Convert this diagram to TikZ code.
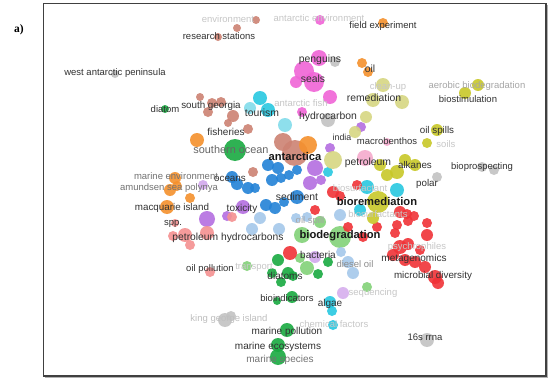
\documentclass[tikz,border=0pt]{standalone}
\usepackage{fontspec}
\setsansfont{Liberation Sans}
\newfontfamily\serifbold{Liberation Serif}
\definecolor{cbrown}{RGB}{205,130,115}
\definecolor{corange}{RGB}{245,145,45}
\definecolor{cpink}{RGB}{240,100,215}
\definecolor{cgray}{RGB}{195,195,195}
\definecolor{cgreen}{RGB}{25,170,65}
\definecolor{clgreen}{RGB}{130,210,120}
\definecolor{ccyan}{RGB}{40,200,225}
\definecolor{cblue}{RGB}{35,130,215}
\definecolor{cpurple}{RGB}{180,110,225}
\definecolor{cred}{RGB}{240,50,55}
\definecolor{csalmon}{RGB}{245,145,145}
\definecolor{colive}{RGB}{200,200,40}
\definecolor{colivel}{RGB}{215,215,130}
\definecolor{clblue}{RGB}{165,200,235}
\definecolor{clpink}{RGB}{245,170,205}
\definecolor{clcyan}{RGB}{130,220,235}
\definecolor{tdark}{RGB}{50,50,50}
\pgfdeclarelayer{bg}
\pgfsetlayers{bg,main}
\begin{document}
\begin{tikzpicture}[x=1pt,y=-1pt,
  dot/.style={circle, inner sep=0pt, outer sep=0pt, fill=#1, fill opacity=0.9, draw=none},
  lnk/.style={draw=#1, line width=1pt, draw opacity=0.32},
  lbl/.style={inner sep=0pt, font=\sffamily\fontsize{9.5}{10}\selectfont, text=tdark},
  lmd/.style={lbl, font=\sffamily\fontsize{10.4}{11}\selectfont},
  lbg/.style={lbl, font=\sffamily\bfseries\fontsize{11.2}{12}\selectfont, text=black!90},
  faint/.style={text=black!22},
  mid/.style={text=black!55}]
\useasboundingbox (0,0) rectangle (550,380);
\fill[white] (0,0) rectangle (550,380);
% frame
\draw[line width=1pt, black!30] (547.6,5) -- (547.6,377.6) -- (45,377.6);
\draw[line width=1.3pt, black!75] (43.5,3.5) rectangle (546,376);
\node[inner sep=0pt, font=\serifbold\bfseries\fontsize{11.5}{12}\selectfont] (tag) at (19,30) {a)};
% ---------- nodes ----------
\foreach \n/\x/\y/\r/\c in {
 b1/218/37/4/cbrown, b2/237/28/4/cbrown, b3/256/20/4/cbrown, b4/200/97/4/cbrown,
 b5/212/103/5/cbrown, b6/221/102/5/cbrown, b7/208/112/5/cbrown, b8/233/116/6/cbrown,
 b9/248/129/5/cbrown, b11/295/153/13/cbrown, b12/283/142/9/cbrown, b13/253/172/5/cbrown,
 b14/228/123/4/cbrown,
 o1/383/23/5/corange, o2/362/63/5/corange, o3/368/72/5/corange, o4/308/145/9/corange,
 o5/197/140/7/corange, o6/175/178/6/corange, o7/177/186/5/corange, o8/170/190/6/corange,
 o9/190/198/5/corange, o10/167/207/7/corange,
 p1/320/20/5/cpink, p2/319/58/8/cpink, p3/304/71/10/cpink, p4/314/82/10/cpink,
 p5/330/97/7/cpink, p6/302/112/5/cpink, p7/296/82/6/cpink,
 g1/115/74/4/cgray, g2/335/62/5/cgray, g3/328/120/7/cgray, g4/482/167/5/cgray,
 g5/494/170/5/cgray, g6/437/177/5/cgray, g7/427/340/7/cgray, g8/225/320/7/cgray,
 g9/231/316/5/cgray,
 G1/235/150/11/cgreen, G2/165/109/4/cgreen, G3/278/260/6/cgreen, G4/272/273/5/cgreen,
 G5/288/273/6/cgreen, G6/281/282/5/cgreen, G7/328/262/5/cgreen, G8/318/274/5/cgreen,
 G9/277/301/4/cgreen, G10/292/297/6/cgreen, G11/287/330/7/cgreen, G12/278/345/7/cgreen,
 G13/278/357/8/cgreen, G14/293/276/5/cgreen,
 L1/340/237/11/clgreen, L2/302/235/8/clgreen, L3/247/266/5/clgreen, L4/300/258/5/clgreen,
 L5/307/268/7/clgreen, L6/367/287/5/clgreen, L7/320/222/6/clgreen,
 c1/260/98/7/ccyan, c2/268/110/7/ccyan, c3/285/125/7/clcyan, c4/367/187/7/ccyan,
 c5/397/190/7/ccyan, c6/360/210/6/ccyan, c7/328/172/5/ccyan, c8/330/302/6/ccyan,
 c9/332/311/5/ccyan, c10/333/325/5/ccyan, c11/250/108/6/clcyan,
 B1/232/177/6/cblue, B2/237/184/6/cblue, B3/248/188/6/cblue, B4/268/165/6/cblue,
 B5/278/168/6/cblue, B6/272/180/6/cblue, B7/281/178/5/cblue, B8/289/175/5/cblue,
 B9/297/170/5/cblue, B10/297/197/7/cblue, B11/266/205/6/cblue, B12/275/208/6/cblue,
 B13/284/202/5/cblue, B14/255/188/5/cblue,
 u1/330/148/5/cpurple, u2/361/127/5/cpurple, u3/315/168/8/cpurple, u4/310/183/7/cpurple,
 u5/321/180/5/cpurple, u6/243/207/7/cpurple, u7/207/219/8/cpurple, u8/227/216/5/cpurple,
 u9/315/257/6/cpurple!60, u10/343/293/6/cpurple!55, u11/203/185/5/cpurple!60,
 r1/333/192/6/cred, r2/340/196/5/cred, r3/315/210/5/cred, r4/357/185/5/cred,
 r5/400/212/6/cred, r6/407/214/5/cred, r7/414/216/5/cred, r8/397/225/5/cred,
 r9/408/221/5/cred, r10/395/233/5/cred, r11/427/223/5/cred, r12/427/235/6/cred,
 r13/377/227/5/cred, r14/363/237/5/cred, r15/348/227/5/cred, r16/290/253/7/cred,
 r17/393/255/6/cred, r18/405/260/6/cred, r19/415/262/6/cred, r20/425/267/6/cred,
 r21/400/247/7/cred, r22/408/244/6/cred, r23/435/277/7/cred, r24/438/283/6/cred,
 r25/420/250/5/cred,
 s1/175/223/4/csalmon, s2/185/235/7/csalmon, s3/207/233/7/csalmon, s4/190/245/5/csalmon,
 s5/232/217/5/csalmon, s6/210/272/5/csalmon, s7/173/236/5/csalmon,
 y1/373/100/7/colivel, y2/383/85/7/colivel, y3/402/102/7/colivel, y4/478/85/6/colive,
 y5/465/93/6/colive, y6/437/130/6/colive, y7/427/143/5/colive, y8/415/165/6/colive,
 y9/397/172/7/colive, y10/387/175/6/colive, y11/380/165/6/colive, y12/405/160/6/colive,
 y13/378/202/11/colive, y14/373/218/6/colive, y15/333/160/9/colivel, y16/366/117/6/colivel,
 y17/355/132/6/colivel,
 k1/260/218/6/clblue, k2/252/229/6/clblue, k3/279/229/6/clblue, k4/340/215/6/clblue,
 k5/307/217/5/clblue, k6/348/262/6/clblue, k7/353/273/6/clblue, k8/341/252/5/clblue,
 k9/296/218/5/clblue,
 q1/387/142/4/clpink, q2/365/158/8/clpink}
 {\node[dot=\c, minimum size={2*\r*1pt}] (\n) at (\x,\y) {};}
% ---------- connectors ----------
\begin{pgfonlayer}{bg}
\foreach \a/\b in {b11/b1,b11/b2,b11/b3,b11/b4,b11/b5,b11/b6,b11/b7,b11/b8,b11/b9,b11/c1,
 b11/p3,b11/p4,b11/y13,b11/L1,b11/q2,b11/y15,b11/B10,b11/s2,b11/s3,b11/o10,b11/o8,b11/r16,
 b11/g8,b11/y1,b11/y6,b11/g6,b11/r21,b11/G13,b11/u7,b11/o6,b12/b5,b12/b8,b12/b1,b12/b2,
 b12/b4,b13/B3,b14/G1,b9/G1,b11/y9,b11/r5,b11/G11,b11/u10,b11/y4,b11/o1,b3/b12,b2/p5}
 {\draw[lnk=cbrown] (\a) -- (\b);}
\foreach \a/\b in {o4/o1,o4/o2,o4/o3,o4/o5,o4/o6,o4/o8,o4/o10,o4/y1,o4/y13,o4/y2,o4/L1,
 o1/o2,o1/y1,o1/o3,o2/y13,o3/y15,o10/s2,o6/G1,o8/G1,o9/b11,o7/G1,o5/G1,o1/b12,o2/p5}
 {\draw[lnk=corange] (\a) -- (\b);}
\foreach \a/\b in {p4/p1,p2/p1,p4/p2,p3/b11,p4/c2,p4/u3,p4/y13,p4/L1,p4/q2,p3/y15,p5/y1,
 p5/b11,p3/c1,p4/o4,p3/G1,p2/y16,p5/y13,p6/B9,p7/b12,p3/p7,p3/b8,p4/B10,p2/y2}
 {\draw[lnk=cpink] (\a) -- (\b);}
\foreach \a/\b in {G1/g1,G1/G3,G1/G4,G1/G5,G1/G10,G1/G11,G1/G12,G1/G13,G1/B1,G1/B4,
 G1/u6,G1/k1,G1/L2,G1/s3,G1/b8,G1/b7,G1/c1,G1/u7,G1/o10,G1/y13,G1/y15,G1/L1,
 G11/G13,G12/G13,G10/G11,G3/G11,G9/G11,G10/c8,G5/L1,G3/L1,G7/L1,G14/L1,G4/G6,G13/L1,
 G11/L1,G3/r16,G8/G5,G6/G9,G1/G9,G1/s6,G1/o8}
 {\draw[lnk=cgreen] (\a) -- (\b);}
\draw[cgreen, line width=1.6pt, draw opacity=0.55] (G2) -- (G1);
\draw[cgreen, line width=1pt, draw opacity=0.35] (G2.south east) -- (G1.south west);
\foreach \a/\b in {L1/r16,L1/L3,L1/L4,L1/L5,L1/s6,L1/k1,L1/k3,L1/B10,L1/q2,L1/r5,L1/r21,
 L1/c8,L1/u10,L1/g7,L1/y8,L1/L6,L1/y13,L1/s2,L1/s3,L1/u7,L1/r23,L1/k6,L1/G9,L1/g8,L1/y6,
 L1/g4,L2/L3,L2/G1,L2/s3,L7/L1,L1/y1,L1/p4,L1/G12}
 {\draw[lnk=clgreen] (\a) -- (\b);}
\foreach \a/\b in {y13/y1,y13/y2,y13/y3,y13/y4,y13/y5,y13/y6,y13/y7,y13/y8,y13/y9,y13/g6,
 y13/g4,y13/r5,y13/r12,y13/r21,y13/c4,y13/q2,y13/y15,y13/r16,y13/k6,y13/u3,y13/r23,y13/s3,
 y13/o1,y13/y16,y1/y2,y1/y3,y1/y16,y1/y17,y1/y15,y1/y9,y1/q2,y5/y4,y5/y6,y4/y6,y6/y7,
 y6/y8,y6/y9,y8/g4,y3/y6,y15/u3,y15/b11,y10/y13,y11/y13,y12/y13,y14/y13,y13/s2,y13/g7,y4/y9}
 {\draw[lnk=colive] (\a) -- (\b);}
\foreach \a/\b in {r21/r12,r21/r17,r21/r18,r21/r19,r21/r20,r21/r23,r21/g7,r23/g7,r16/s2,
 r16/s3,r16/s6,r16/r21,r5/r21,r12/r23,r1/r16,r15/r16,r3/s3,r13/r20,r16/g8,r18/g7,r5/g6,
 r12/g4,r24/r23,r25/r21,r16/G13,r21/s3}
 {\draw[lnk=cred] (\a) -- (\b);}
\foreach \a/\b in {c8/c4,c8/c6,c8/r16,c10/c8,c9/G10,c4/c5,c4/c7,c1/c2,c2/c3,c3/b11,c7/u3,
 c10/L1,c6/c4,c5/y13,c8/G1,c11/c1,c11/G1,c10/k7}
 {\draw[lnk=ccyan] (\a) -- (\b);}
\foreach \a/\b in {g8/s3,g8/s2,g8/L3,g8/s6,g4/g6,g4/y8,g4/y5,g7/u10,g1/b11,g1/B1,g3/b11,
 g3/y13,g2/p2,g6/r5,g6/y13,g5/g4,g9/r16,g9/L3}
 {\draw[lnk=cgray] (\a) -- (\b);}
\foreach \a/\b in {s2/s3,s3/s5,s1/s2,s7/s2,s6/s3,s3/b11,s2/G1,s5/L1,s4/s6}
 {\draw[lnk=csalmon] (\a) -- (\b);}
\foreach \a/\b in {u3/u6,u3/u7,u3/u11,u3/B10,u7/u6,u7/s2,u6/u8,u1/b11,u2/y1,u9/L1,u11/o8,
 u4/r1,u6/B10,u10/c8,u5/u3}
 {\draw[lnk=cpurple] (\a) -- (\b);}
\foreach \a/\b in {B10/B1,B10/B4,B10/B11,B10/B12,B10/B13,B10/b11,B1/B2,B2/B3,B4/B5,B6/B7,
 B8/B9,B14/B3,B11/B12,B3/B10,B9/b11,B4/b11,B1/b11}
 {\draw[lnk=cblue] (\a) -- (\b);}
\foreach \a/\b in {k1/k2,k2/k3,k3/L1,k4/y13,k5/L1,k6/k7,k6/k8,k8/L1,k9/B10,k1/s3,k7/c8}
 {\draw[lnk=clblue] (\a) -- (\b);}
\foreach \a/\b in {q2/y13,q2/b11,q1/q2,q1/y13}
 {\draw[lnk=clpink] (\a) -- (\b);}
\end{pgfonlayer}
% ---------- labels ----------
\node[lbl] (t1) at (219,36) {research stations};
\node[lbl, faint] (t2) at (228,19) {environment};
\node[lbl, faint] (t3) at (319,18) {antarctic environment};
\node[lbl] (t4) at (383,26) {field experiment};
\node[lbl] (t5) at (115,73) {west antarctic peninsula};
\node[lmd] (t6) at (320,60) {penguins};
\node[lmd] (t7) at (313,79) {seals};
\node[lmd] (t8) at (370,69) {oil};
\node[lbl, faint] (t9) at (388,87) {clean-up};
\node[lmd] (t10) at (374,98) {remediation};
\node[lbl, text=black!35] (t11) at (477,86) {aerobic biodegradation};
\node[lbl] (t12) at (468,99) {biostimulation};
\node[lbl] (t13) at (165,109) {diatom};
\node[lbl, font=\sffamily\fontsize{9.8}{10}\selectfont] (t14) at (211,106) {south georgia};
\node[lmd] (t15) at (262,113) {tourism};
\node[lbl, faint] (t16) at (301,103) {antarctic fish};
\node[lmd] (t17) at (328,117) {hydrocarbon};
\node[lbl, font=\sffamily\fontsize{10}{10}\selectfont] (t18) at (226,132) {fisheries};
\node[lbl, font=\sffamily\fontsize{8.8}{10}\selectfont] (t19) at (342,137) {india};
\node[lbl] (t20) at (387,141) {macrobenthos};
\node[lbl, font=\sffamily\fontsize{9.8}{10}\selectfont] (t21) at (437,131) {oil spills};
\node[lbl, faint] (t22) at (446,144) {soils};
\node[lbl, font=\sffamily\fontsize{10.9}{11}\selectfont, text=black!60] (t23) at (231,150) {southern ocean};
\node[lbg] (t24) at (295,156) {antarctica};
\node[lmd] (t25) at (368,163) {petroleum};
\node[lbl, font=\sffamily\fontsize{9.8}{10}\selectfont] (t26) at (415,165) {alkanes};
\node[lbl] (t27) at (482,167) {bioprospecting};
\node[lbl, mid] (t28) at (176,176) {marine environment};
\node[lbl, font=\sffamily\fontsize{9.8}{10}\selectfont] (t29) at (230,179) {oceans};
\node[lbl, font=\sffamily\fontsize{9.8}{10}\selectfont] (t30) at (427,184) {polar};
\node[lbl, faint] (t31) at (360,188) {biosurfactant};
\node[lbl, mid] (t32) at (169,188) {amundsen sea polynya};
\node[lmd] (t33) at (297,197) {sediment};
\node[lbg] (t34) at (377,201) {bioremediation};
\node[lbl, font=\sffamily\fontsize{9.8}{10}\selectfont] (t35) at (172,208) {macquarie island};
\node[lbl, font=\sffamily\fontsize{10}{10}\selectfont] (t36) at (242,209) {toxicity};
\node[lbl, faint] (t37) at (378,214) {biosurfactants};
\node[lbl, text=black!35] (t38) at (310,221) {oil spill};
\node[lbl] (t39) at (173,224) {spp.};
\node[lbg] (t40) at (340,236) {biodegradation};
\node[lbl, font=\sffamily\fontsize{10.3}{11}\selectfont] (t41) at (228,238) {petroleum hydrocarbons};
\node[lbl, faint] (t42) at (417,247) {psychrophiles};
\node[lbl, font=\sffamily\fontsize{10}{10}\selectfont] (t43) at (318,255) {bacteria};
\node[lbl, font=\sffamily\fontsize{10}{10}\selectfont] (t44) at (414,259) {metagenomics};
\node[lbl, text=black!45] (t45) at (355,264) {diesel oil};
\node[lbl, faint] (t46) at (254,267) {transport};
\node[lbl] (t47) at (210,269) {oil pollution};
\node[lbl, font=\sffamily\fontsize{10}{10}\selectfont] (t48) at (285,276) {diatoms};
\node[lbl, font=\sffamily\fontsize{9.8}{10}\selectfont] (t49) at (433,276) {microbial diversity};
\node[lbl, faint] (t50) at (373,293) {sequencing};
\node[lbl] (t51) at (287,298) {bioindicators};
\node[lbl, font=\sffamily\fontsize{10}{10}\selectfont] (t52) at (330,304) {algae};
\node[lbl, text=black!25] (t53) at (229,319) {king george island};
\node[lbl, faint] (t54) at (334,324) {chemical factors};
\node[lbl, font=\sffamily\fontsize{10}{10}\selectfont] (t55) at (287,332) {marine pollution};
\node[lbl] (t56) at (425,337) {16s rrna};
\node[lbl, font=\sffamily\fontsize{10}{10}\selectfont] (t57) at (278,347) {marine ecosystems};
\node[lbl, font=\sffamily\fontsize{10}{10}\selectfont, text=black!55] (t58) at (280,360) {marine species};
\end{tikzpicture}
\end{document}
